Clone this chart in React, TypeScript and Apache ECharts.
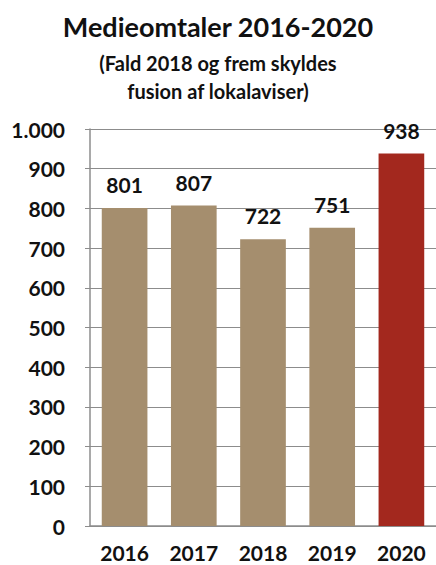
import React, { useEffect, useRef } from "react";
import * as echarts from "echarts";

const categories = ["2016", "2017", "2018", "2019", "2020"];
const values = [801, 807, 722, 751, 938];
const barColors = ["#A58E6E", "#A58E6E", "#A58E6E", "#A58E6E", "#A3281E"];
const titleText = "Medieomtaler 2016-2020";
const subtitleText = "(Fald 2018 og frem skyldes\nfusion af lokalaviser)";

const FONT = "Lato, 'Open Sans', sans-serif";

export default function App() {
  const ref = useRef<HTMLDivElement>(null);
  useEffect(() => {
    if (!ref.current) return;
    const chart = echarts.init(ref.current, undefined, { renderer: "svg" });
    chart.setOption({
      animation: false,
      backgroundColor: "#ffffff",
      title: [
        {
          text: titleText,
          left: "center",
          top: 5,
          textStyle: { fontFamily: FONT, fontSize: 27, fontWeight: "bold", color: "#111", lineHeight: 32 },
        },
        {
          text: subtitleText,
          left: "center",
          top: 44,
          textStyle: { fontFamily: FONT, fontSize: 20, fontWeight: "bold", color: "#111", lineHeight: 28, align: "center" },
        },
      ],
      grid: { left: 90, right: -2, top: 129, bottom: 39, containLabel: false },
      xAxis: {
        type: "category",
        data: categories,
        axisLine: { lineStyle: { color: "#8c8c8c", width: 1.5 } },
        axisTick: { show: false },
        axisLabel: { fontFamily: FONT, fontSize: 21, fontWeight: "bold", color: "#111", margin: 16 },
      },
      yAxis: {
        type: "value",
        min: 0,
        max: 1000,
        interval: 100,
        axisLine: { show: true, lineStyle: { color: "#8c8c8c", width: 1.5 } },
        axisTick: { show: true, length: 5, lineStyle: { color: "#8c8c8c" } },
        splitLine: { lineStyle: { color: "#8c8c8c", width: 1 } },
        axisLabel: {
          fontFamily: FONT,
          fontSize: 21,
          fontWeight: "bold",
          color: "#111",
          margin: 25,
          formatter: (v: number) => (v >= 1000 ? "1.000" : String(v)),
        },
      },
      series: [
        {
          type: "bar",
          data: values.map((v, i) => ({ value: v, itemStyle: { color: barColors[i] } })),
          barWidth: "66%",
          label: {
            show: true,
            position: "top",
            distance: 13,
            fontFamily: FONT,
            fontSize: 21,
            fontWeight: "bold",
            color: "#111",
          },
        },
      ],
    });
    return () => chart.dispose();
  }, []);
  return <div ref={ref} style={{ position: "absolute", left: 0, top: 0, width: 436, height: 565 }} />;
}
